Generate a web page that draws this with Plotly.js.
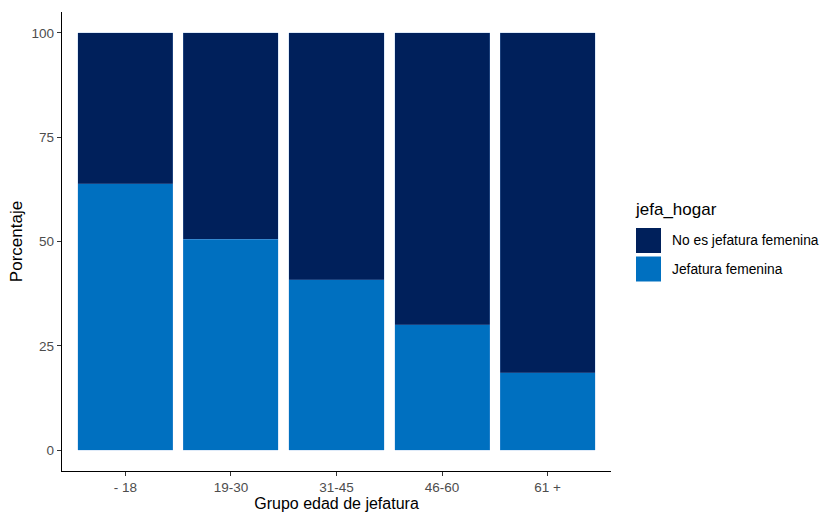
<!DOCTYPE html>
<html>
<head>
<meta charset="utf-8">
<script src="https://cdn.plot.ly/plotly-3.0.1.min.js"></script>
<style>html,body{margin:0;padding:0;background:#fff;}#chart{width:821px;height:512px;}</style>
</head>
<body>
<div id="chart"></div>
<script>
const categories = ['- 18', '19-30', '31-45', '46-60', '61 +'];
const jefaturaFemenina = [63.8, 50.6, 40.8, 30.0, 18.5];
const noJefaturaFemenina = [36.2, 49.4, 59.2, 70.0, 81.5];
const seriesNames = ['Jefatura femenina', 'No es jefatura femenina'];
const seriesColors = ['#0070C0', '#00205B'];
const legendTitle = 'jefa_hogar';
const yTicks = [0, 25, 50, 75, 100];

const font = 'Liberation Sans, Arial, sans-serif';
const traces = [jefaturaFemenina, noJefaturaFemenina].map((vals, i) => ({
  type: 'bar',
  x: categories,
  y: vals,
  name: seriesNames[i],
  marker: {color: seriesColors[i], line: {width: 0.4, color: 'rgba(120,170,230,0.6)'}},
  width: 0.9,
  showlegend: false
}));

// legend drawn in paper coordinates (ggplot-style large keys), in order dark then light
const L = 62, W = 549, B = 471, H = 459;
const px = v => (v - L) / W;
const py = v => (B - v) / H;
const legendOrder = [1, 0];
const shapes = [];
const annotations = [{
  xref: 'paper', yref: 'paper', x: px(633), y: py(209), xanchor: 'left', yanchor: 'middle',
  text: legendTitle, showarrow: false, font: {family: font, size: 17, color: '#000'}
}];
legendOrder.forEach((s, k) => {
  const top = 228 + k * 28.5;
  shapes.push({type: 'rect', xref: 'paper', yref: 'paper',
    x0: px(636), x1: px(661), y0: py(top + 25), y1: py(top),
    fillcolor: seriesColors[s], line: {width: 0}});
  annotations.push({xref: 'paper', yref: 'paper', x: px(670), y: py(top + 12.5),
    xanchor: 'left', yanchor: 'middle', text: seriesNames[s], showarrow: false,
    font: {family: font, size: 13.8, color: '#000'}});
});

const layout = {
  width: 821, height: 512,
  margin: {l: 62, r: 210, t: 12, b: 41, pad: 0},
  paper_bgcolor: '#fff', plot_bgcolor: '#fff',
  barmode: 'stack',
  font: {family: font, size: 13.5, color: '#4D4D4D'},
  xaxis: {
    type: 'category',
    range: [-0.6, 4.6],
    showgrid: false, zeroline: false,
    showline: true, linecolor: '#000', linewidth: 1.2,
    ticks: 'outside', ticklen: 4, tickcolor: '#333', tickwidth: 1,
    tickfont: {family: font, size: 13.5, color: '#4D4D4D'},
    title: {text: 'Grupo edad de jefatura', font: {family: font, size: 16, color: '#000'}, standoff: 3}
  },
  yaxis: {
    range: [-5, 105],
    tickvals: yTicks,
    ticktext: yTicks.map(String),
    showgrid: false, zeroline: false,
    showline: true, linecolor: '#000', linewidth: 1.2,
    ticks: 'outside', ticklen: 4, tickcolor: '#333', tickwidth: 1,
    tickfont: {family: font, size: 13.5, color: '#4D4D4D'},
    title: {text: 'Porcentaje', font: {family: font, size: 17, color: '#000'}, standoff: 4}
  },
  showlegend: false,
  shapes: shapes,
  annotations: annotations
};

Plotly.newPlot('chart', traces, layout, {displayModeBar: false, staticPlot: true});
</script>
</body>
</html>
